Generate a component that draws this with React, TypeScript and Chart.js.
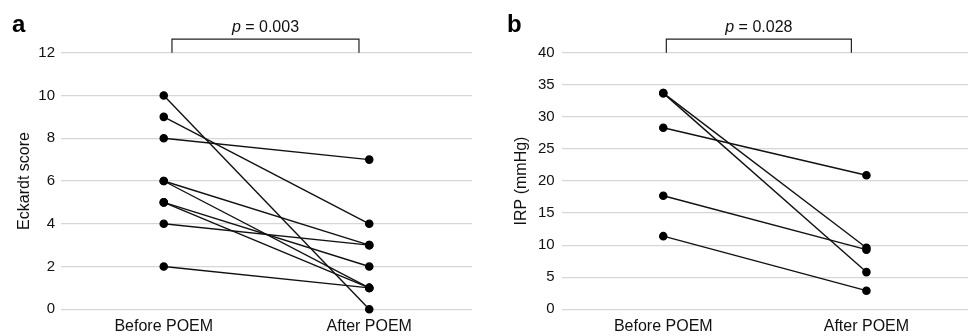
import React, { useEffect, useRef } from 'react';
import { Chart, registerables } from 'chart.js';

Chart.register(...registerables);

// ---- Data ----
const categories = ['Before POEM', 'After POEM'];

// Panel a: Eckardt score, one entry per patient
const eckardtBefore = [10, 9, 8, 6, 6, 5, 5, 4, 2];
const eckardtAfter = [0, 4, 7, 3, 1, 2, 1, 3, 1];
const eckardtMax = 12;
const eckardtStep = 2;
const eckardtP = '0.003';

// Panel b: IRP (mmHg), one entry per patient
const irpBefore = [33.7, 33.7, 28.3, 17.7, 11.4];
const irpAfter = [9.6, 5.8, 20.9, 9.3, 2.9];
const irpMax = 40;
const irpStep = 5;
const irpP = '0.028';

const FONT = '"Liberation Sans", Arial, Helvetica, sans-serif';

const annotPlugin = {
  id: 'annot',
  afterDraw(chart: any, _args: any, opts: any) {
    const { ctx, chartArea, scales } = chart;
    ctx.save();
    // panel letter
    ctx.font = `bold 24px ${FONT}`;
    ctx.fillStyle = '#000';
    ctx.textAlign = 'left';
    ctx.textBaseline = 'alphabetic';
    ctx.fillText(opts.letter, opts.letterX, 32);
    // bracket
    const x1 = scales.x.getPixelForValue(opts.b0);
    const x2 = scales.x.getPixelForValue(opts.b1);
    const yb = chartArea.top;
    const yt = yb - 13.5;
    ctx.strokeStyle = '#222';
    ctx.lineWidth = 1.2;
    ctx.beginPath();
    ctx.moveTo(x1, yb);
    ctx.lineTo(x1, yt);
    ctx.lineTo(x2, yt);
    ctx.lineTo(x2, yb);
    ctx.stroke();
    // p text
    const cx = (x1 + x2) / 2;
    ctx.font = `italic 16px ${FONT}`;
    const wp = ctx.measureText('p').width;
    ctx.font = `16px ${FONT}`;
    const rest = ' = ' + opts.p;
    const wr = ctx.measureText(rest).width;
    const start = cx - (wp + wr) / 2;
    ctx.fillStyle = '#111';
    ctx.font = `italic 16px ${FONT}`;
    ctx.fillText('p', start, 32);
    ctx.font = `16px ${FONT}`;
    ctx.fillText(rest, start + wp, 32);
    ctx.restore();
  },
};

function buildConfig(
  before: number[],
  after: number[],
  max: number,
  step: number,
  title: string,
  yWidth: number,
  titlePad: number,
  tickPad: number,
  padRight: number,
  letter: string,
  letterX: number,
  p: string,
  b0: number,
  b1: number
): any {
  const datasets = before.map((b, i) => ({
    label: `Patient ${i + 1}`,
    data: [b, after[i]],
    borderColor: '#111',
    backgroundColor: '#000',
    pointBackgroundColor: '#000',
    pointBorderColor: '#000',
    pointRadius: 3.6,
    pointHoverRadius: 3.6,
    borderWidth: 1.4,
    clip: false,
    tension: 0,
  }));
  return {
    type: 'line',
    data: { labels: categories, datasets },
    plugins: [annotPlugin],
    options: {
      responsive: false,
      animation: false,
      layout: { padding: { top: 52.7, right: padRight, bottom: 0, left: 0 } },
      plugins: {
        legend: { display: false },
        tooltip: { enabled: false },
        annot: { letter, letterX, p, b0, b1 },
      },
      scales: {
        x: {
          type: 'category',
          offset: true,
          grid: { display: false, drawTicks: false },
          border: { display: false },
          ticks: {
            color: '#111',
            font: { family: FONT, size: 16 },
            padding: 8,
            maxRotation: 0,
          },
          afterFit(scale: any) {
            scale.height = 336 - 309.3;
          },
        },
        y: {
          min: 0,
          max,
          ticks: {
            stepSize: step,
            color: '#111',
            font: { family: FONT, size: 15 },
            padding: tickPad,
          },
          grid: { color: '#d6d6d6', lineWidth: 1.2, drawTicks: false },
          border: { display: false },
          title: {
            display: true,
            text: title,
            color: '#111',
            font: { family: FONT, size: 16 },
            padding: { top: titlePad, bottom: 0 },
          },
          afterFit(scale: any) {
            scale.width = yWidth;
          },
        },
      },
    },
  };
}

function Panel(props: { config: any; width: number; left: number }) {
  const ref = useRef<HTMLCanvasElement | null>(null);
  useEffect(() => {
    if (!ref.current) return;
    const chart = new Chart(ref.current, props.config);
    return () => chart.destroy();
  }, []);
  return (
    <canvas
      ref={ref}
      width={props.width}
      height={336}
      style={{ position: 'absolute', left: props.left, top: 0, width: props.width, height: 336 }}
    />
  );
}

export default function App() {
  const cfgA = buildConfig(
    eckardtBefore, eckardtAfter, eckardtMax, eckardtStep, 'Eckardt score',
    61, 15.4, 6, 18, 'a', 12, eckardtP, 0.04, 0.95
  );
  const cfgB = buildConfig(
    irpBefore, irpAfter, irpMax, irpStep, 'IRP (mmHg)',
    71.7, 22, 7, 3, 'b', 17, irpP, 0.015, 0.926
  );
  return (
    <div style={{ position: 'absolute', left: 0, top: 0, width: 973, height: 336, background: '#fff' }}>
      <Panel config={cfgA} width={490} left={0} />
      <Panel config={cfgB} width={483} left={490} />
    </div>
  );
}
